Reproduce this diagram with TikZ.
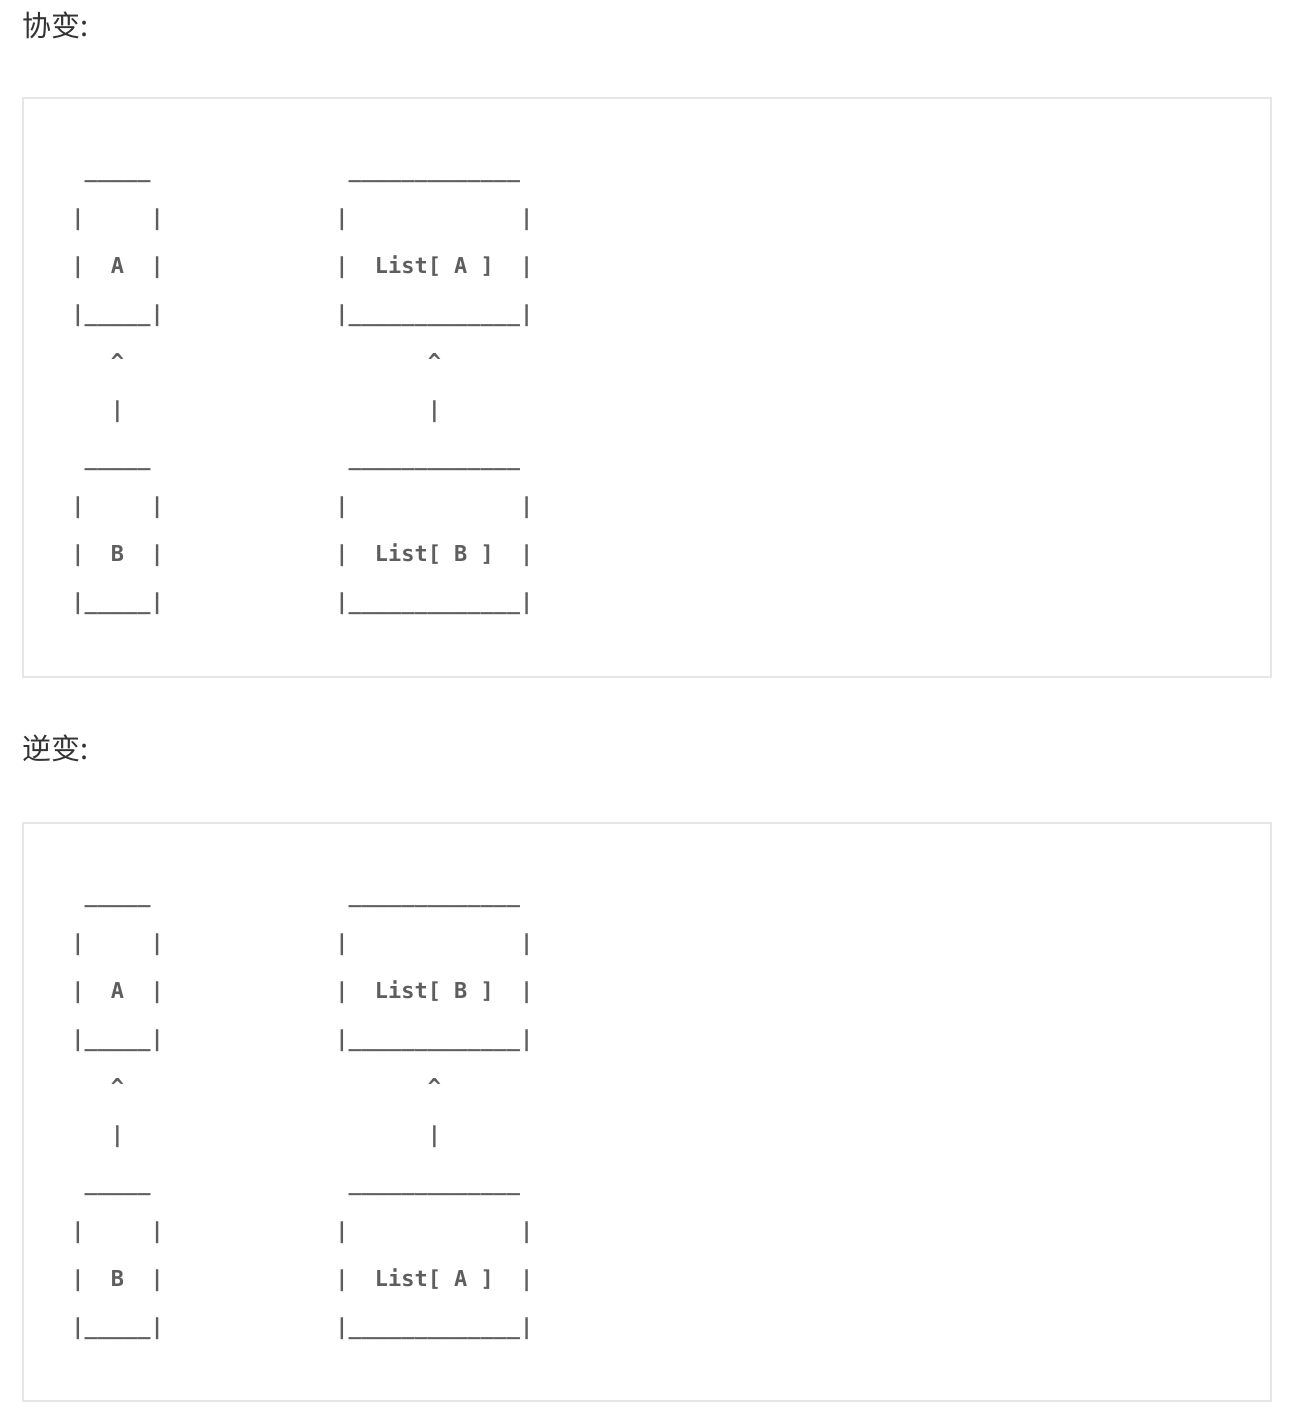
\documentclass[tikz,border=0pt]{standalone}
\usepackage{fontspec}
\setmonofont{DejaVu Sans Mono}
\newfontfamily\cjk{Noto Sans CJK SC}
\usetikzlibrary{positioning}
\definecolor{asciigray}{HTML}{5E5E5E}
\definecolor{headgray}{HTML}{333333}
\definecolor{codeline}{HTML}{E6E6E6}
\frenchspacing

\begin{document}
\begin{tikzpicture}[
		x=0.5pt, y=-0.5pt,
		ascii/.style={inner sep=0pt, outer sep=0pt, align=left, text=asciigray,
			font=\fontsize{10.96pt}{24pt}\selectfont\ttfamily\bfseries},
		arrowtxt/.style={ascii, align=center},
		heading/.style={anchor=base west, inner sep=0pt, text=headgray,
			font=\fontsize{14.5pt}{16pt}\selectfont\cjk},
		codebox/.style={draw=codeline, line width=0.8pt, fill=white}
	]
		\useasboundingbox[fill=white] (0,0) rectangle (1292,1410);

		% covariance
		\node[heading] (cov) at (22,36) {协变:};
		\draw[codebox] (23,98) rectangle (1271,677);
		\node[ascii, anchor=north west] (a1) at (71.4,143.4)
			{\strut\hphantom{|}\_\_\_\_\_\\\strut|~~~~~|\\\strut|~~A~~|\\\strut|\_\_\_\_\_|};
		\node[ascii, right=85.8pt of a1] (la1)
			{\strut\hphantom{|}\_\_\_\_\_\_\_\_\_\_\_\_\_\\\strut|~~~~~~~~~~~~~|\\\strut|~~List[~A~]~~|\\\strut|\_\_\_\_\_\_\_\_\_\_\_\_\_|};
		\node[arrowtxt, below=0pt of a1] (up1) {\strut\textasciicircum\\\strut|};
		\node[arrowtxt, below=0pt of la1] (up2) {\strut\textasciicircum\\\strut|};
		\node[ascii, below=0pt of up1] (b1)
			{\strut\hphantom{|}\_\_\_\_\_\\\strut|~~~~~|\\\strut|~~B~~|\\\strut|\_\_\_\_\_|};
		\node[ascii, below=0pt of up2] (lb1)
			{\strut\hphantom{|}\_\_\_\_\_\_\_\_\_\_\_\_\_\\\strut|~~~~~~~~~~~~~|\\\strut|~~List[~B~]~~|\\\strut|\_\_\_\_\_\_\_\_\_\_\_\_\_|};

		% contravariance
		\node[heading] (contra) at (22,759) {逆变:};
		\draw[codebox] (23,823) rectangle (1271,1401);
		\node[ascii, anchor=north west] (a2) at (71.4,868.4)
			{\strut\hphantom{|}\_\_\_\_\_\\\strut|~~~~~|\\\strut|~~A~~|\\\strut|\_\_\_\_\_|};
		\node[ascii, right=85.8pt of a2] (lb2)
			{\strut\hphantom{|}\_\_\_\_\_\_\_\_\_\_\_\_\_\\\strut|~~~~~~~~~~~~~|\\\strut|~~List[~B~]~~|\\\strut|\_\_\_\_\_\_\_\_\_\_\_\_\_|};
		\node[arrowtxt, below=0pt of a2] (up3) {\strut\textasciicircum\\\strut|};
		\node[arrowtxt, below=0pt of lb2] (up4) {\strut\textasciicircum\\\strut|};
		\node[ascii, below=0pt of up3] (b2)
			{\strut\hphantom{|}\_\_\_\_\_\\\strut|~~~~~|\\\strut|~~B~~|\\\strut|\_\_\_\_\_|};
		\node[ascii, below=0pt of up4] (la2)
			{\strut\hphantom{|}\_\_\_\_\_\_\_\_\_\_\_\_\_\\\strut|~~~~~~~~~~~~~|\\\strut|~~List[~A~]~~|\\\strut|\_\_\_\_\_\_\_\_\_\_\_\_\_|};
	\end{tikzpicture}
\end{document}
